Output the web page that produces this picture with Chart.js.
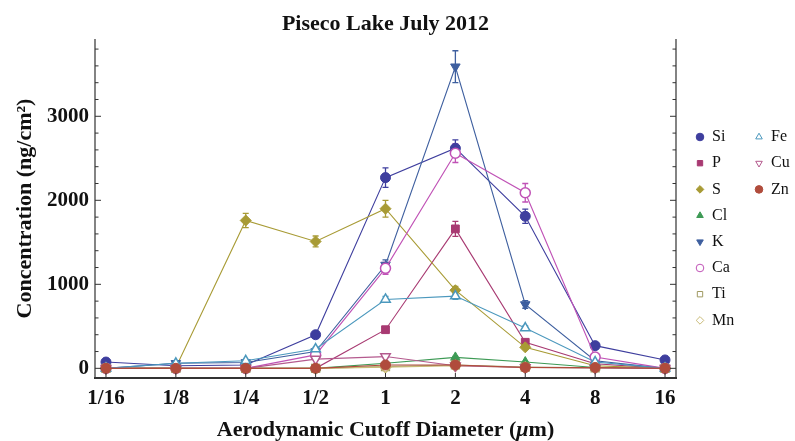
<!DOCTYPE html>
<html>
<head>
<meta charset="utf-8">
<script src="https://cdn.jsdelivr.net/npm/chart.js@4.4.1/dist/chart.umd.min.js"></script>
<style>
  html, body { margin: 0; padding: 0; background: #fff; }
  canvas { display: block; }
</style>
</head>
<body>
<canvas id="chart" width="795" height="441"></canvas>
<script>
// cutoff diameters (um) and the labels shown under them
const diameters = [1/16, 1/8, 1/4, 1/2, 1, 2, 4, 8, 16];
const tickLabels = ["1/16", "1/8", "1/4", "1/2", "1", "2", "4", "8", "16"];

// concentrations (ng/cm2) and their error bars, per element
const si   = [75, 30, 40, 400, 2270, 2620, 1810, 270, 100];
const siE  = [10, 10, 10, 30, 115, 100, 85, 25, 15];
const p    = [0, 0, 0, 0, 460, 1660, 310, 55, 0];
const pE   = [5, 5, 5, 5, 25, 90, 25, 10, 5];
const s    = [0, 10, 1760, 1510, 1900, 930, 250, 30, 0];
const sE   = [5, 5, 85, 65, 100, 45, 20, 5, 5];
const cl   = [0, 0, 0, 0, 60, 130, 75, 10, 0];
const clE  = [2, 2, 2, 2, 8, 12, 8, 3, 2];
const k    = [0, 60, 70, 200, 1230, 3590, 760, 90, 0];
const kE   = [5, 10, 10, 20, 60, 190, 45, 10, 5];
const ca   = [0, 0, 0, 160, 1190, 2560, 2090, 135, 0];
const caE  = [5, 5, 5, 15, 70, 110, 110, 15, 5];
const ti   = [0, 0, 0, 0, 20, 40, 15, 5, 0];
const tiE  = [2, 2, 2, 2, 4, 6, 4, 2, 2];
const mn   = [0, 0, 0, 0, 15, 30, 10, 5, 0];
const mnE  = [2, 2, 2, 2, 4, 5, 3, 2, 2];
const fe   = [0, 60, 90, 230, 820, 860, 480, 75, 0];
const feE  = [5, 10, 10, 20, 35, 40, 25, 10, 5];
const cu   = [0, 0, 0, 110, 140, 30, 10, 5, 0];
const cuE  = [2, 2, 2, 10, 12, 5, 3, 2, 2];
const zn   = [0, 0, 0, 0, 40, 40, 10, 10, 0];
const znE  = [2, 2, 2, 2, 6, 6, 3, 2, 2];

const serif = "'Liberation Serif', 'DejaVu Serif', serif";

function pts(vals) {
  return vals.map((v, i) => ({ x: Math.log2(diameters[i]), y: v }));
}

function series(label, vals, errs, color, style, filled, rotation) {
  return {
    label: label,
    data: pts(vals),
    errors: errs,
    borderColor: color,
    borderWidth: 1.1,
    pointStyle: style,
    pointRotation: rotation || 0,
    pointRadius: style === 'circle' ? 5 : 5.5,
    pointBorderColor: color,
    pointBorderWidth: filled ? 1 : 1.5,
    pointBackgroundColor: filled ? color : '#ffffff',
    tension: 0,
    fill: false
  };
}

const datasets = [
  series('Si', si, siE, '#3e3e9e', 'circle', true),
  series('P', p, pE, '#a83a72', 'rect', true),
  series('S', s, sE, '#a89b35', 'rectRot', true),
  series('Cl', cl, clE, '#3d9a55', 'triangle', true),
  series('K', k, kE, '#3e5f9f', 'triangle', true, 180),
  series('Ca', ca, caE, '#c052b6', 'circle', false),
  series('Ti', ti, tiE, '#a09a62', 'rect', false),
  series('Mn', mn, mnE, '#c9bb78', 'rectRot', false),
  series('Fe', fe, feE, '#4b98bd', 'triangle', false),
  series('Cu', cu, cuE, '#b45a8e', 'triangle', false, 180),
  series('Zn', zn, znE, '#b04c3c', 'circle', true)
];
// later elements are painted over earlier ones, as in the reference
datasets.forEach((d, i) => { d.order = datasets.length - i; });

const legendCol1 = ['Si', 'P', 'S', 'Cl', 'K', 'Ca', 'Ti', 'Mn'];
const legendCol2 = ['Fe', 'Cu', 'Zn'];

const decorations = {
  id: 'decorations',
  beforeDatasetsDraw(chart) {
    const ctx = chart.ctx;
    const xs = chart.scales.x, ys = chart.scales.y;
    ctx.save();
    chart.data.datasets.forEach(d => {
      ctx.strokeStyle = d.borderColor;
      ctx.lineWidth = 1.3;
      d.data.forEach((pt, i) => {
        const e = d.errors[i];
        const px = xs.getPixelForValue(pt.x);
        const y1 = ys.getPixelForValue(pt.y + e);
        const y2 = ys.getPixelForValue(pt.y - e);
        ctx.beginPath();
        ctx.moveTo(px, y1); ctx.lineTo(px, y2);
        ctx.moveTo(px - 3, y1); ctx.lineTo(px + 3, y1);
        ctx.moveTo(px - 3, y2); ctx.lineTo(px + 3, y2);
        ctx.stroke();
      });
    });
    ctx.restore();
  },
  afterDraw(chart) {
    const ctx = chart.ctx;
    const a = chart.chartArea;
    const xs = chart.scales.x, ys = chart.scales.y;
    ctx.save();
    // frame: left, right and bottom
    ctx.strokeStyle = '#333';
    ctx.lineWidth = 1.2;
    ctx.beginPath();
    ctx.moveTo(a.left, a.top); ctx.lineTo(a.left, a.bottom);
    ctx.moveTo(a.right, a.top); ctx.lineTo(a.right, a.bottom);
    ctx.stroke();
    ctx.lineWidth = 2;
    ctx.beginPath();
    ctx.moveTo(a.left - 1, a.bottom); ctx.lineTo(a.right + 1, a.bottom);
    ctx.stroke();

    // inward tick marks
    ctx.lineWidth = 1;
    ctx.beginPath();
    for (let v = 0; v <= 3800; v += 200) {
      const py = ys.getPixelForValue(v);
      const len = v % 1000 === 0 ? 6 : 3.5;
      ctx.moveTo(a.left, py); ctx.lineTo(a.left + len, py);
      ctx.moveTo(a.right, py); ctx.lineTo(a.right - len, py);
    }
    for (let i = 0; i < diameters.length; i++) {
      const px = xs.getPixelForValue(Math.log2(diameters[i]));
      ctx.moveTo(px, a.bottom); ctx.lineTo(px, a.bottom - 5);
    }
    ctx.stroke();

    // title
    ctx.fillStyle = '#111';
    ctx.textAlign = 'center';
    ctx.textBaseline = 'alphabetic';
    ctx.font = 'bold 22px ' + serif;
    ctx.fillText('Piseco Lake July 2012', (a.left + a.right) / 2, 30);

    // x axis title with italic mu
    const parts = [['bold ', 'Aerodynamic Cutoff Diameter ('], ['bold italic ', '\u03bc'], ['bold ', 'm)']];
    let total = 0;
    parts.forEach(pt => { ctx.font = pt[0] + '22px ' + serif; total += ctx.measureText(pt[1]).width; });
    let cx = (a.left + a.right) / 2 - total / 2;
    ctx.textAlign = 'left';
    parts.forEach(pt => {
      ctx.font = pt[0] + '22px ' + serif;
      ctx.fillText(pt[1], cx, 436);
      cx += ctx.measureText(pt[1]).width;
    });

    // y axis title
    ctx.save();
    ctx.translate(31, (a.top + a.bottom) / 2);
    ctx.rotate(-Math.PI / 2);
    ctx.textAlign = 'center';
    ctx.font = 'bold 22px ' + serif;
    ctx.fillText('Concentration (ng/cm\u00b2)', 0, 0);
    ctx.restore();

    // legend in two columns
    const drawEntry = (name, mx, my) => {
      const d = chart.data.datasets.find(ds => ds.label === name);
      ctx.fillStyle = d.pointBackgroundColor;
      ctx.strokeStyle = d.pointBorderColor;
      ctx.lineWidth = 1;
      Chart.helpers.drawPoint(ctx, {
        pointStyle: d.pointStyle, rotation: d.pointRotation,
        radius: 3.8, borderWidth: 1
      }, mx, my);
      ctx.fillStyle = '#111';
      ctx.font = '16px ' + serif;
      ctx.textAlign = 'left';
      ctx.textBaseline = 'middle';
      ctx.fillText(name, mx + 12, my);
    };
    legendCol1.forEach((n, i) => drawEntry(n, 700, 137 + i * 26.2));
    legendCol2.forEach((n, i) => drawEntry(n, 759, 137 + i * 26.2));
    ctx.restore();
  }
};

new Chart(document.getElementById('chart'), {
  type: 'line',
  data: { datasets: datasets },
  options: {
    responsive: false,
    animation: false,
    layout: { padding: { top: 39, right: 119, left: 0, bottom: 0 } },
    plugins: {
      legend: { display: false },
      title: { display: false },
      tooltip: { enabled: false }
    },
    scales: {
      x: {
        type: 'linear',
        min: -4.157,
        max: 4.157,
        afterFit(scale) { scale.height = 63; },
        afterBuildTicks(scale) {
          scale.ticks = diameters.map(d => ({ value: Math.log2(d) }));
        },
        grid: { display: false, drawTicks: false },
        border: { display: false },
        ticks: {
          padding: 8,
          color: '#111',
          font: { family: serif, weight: 'bold', size: 21 },
          maxRotation: 0,
          autoSkip: false,
          callback: (v) => tickLabels[Math.round(v) + 4]
        }
      },
      y: {
        type: 'linear',
        min: -115,
        max: 3920,
        afterFit(scale) { scale.width = 95; },
        afterBuildTicks(scale) {
          scale.ticks = [0, 1000, 2000, 3000].map(v => ({ value: v }));
        },
        grid: { display: false, drawTicks: false },
        border: { display: false },
        ticks: {
          padding: 6,
          color: '#111',
          font: { family: serif, weight: 'bold', size: 21 },
          callback: (v) => String(v)
        }
      }
    }
  },
  plugins: [decorations]
});
</script>
</body>
</html>
